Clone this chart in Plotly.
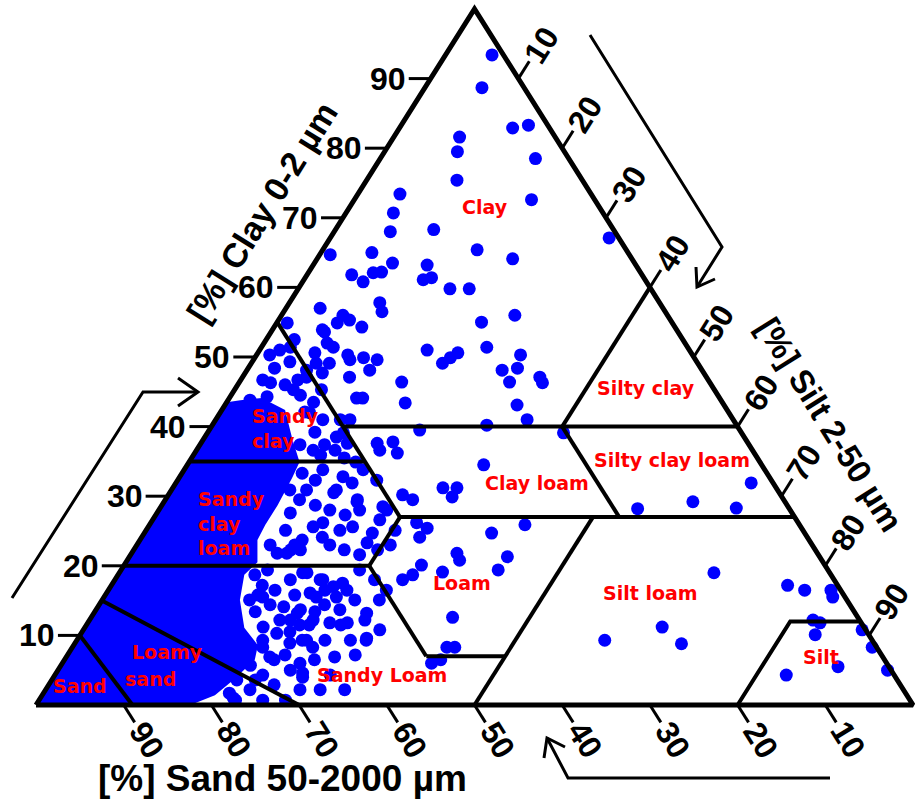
import plotly.graph_objects as go

W, H = 915, 803

# ---- sample compositions (mass %), clay and sand; silt is the remainder ----
clay = [
    # clay field
    93.4, 88.7, 82.9, 83.3, 81.6, 79.5, 78.5, 75.4, 73.4, 72.6,
    70.7, 68.0, 68.3, 67.1, 65.0, 63.5, 65.4, 64.1, 63.2, 64.7,
    61.8, 60.8, 62.1, 62.2, 61.1, 61.4, 59.8, 59.8, 57.0, 57.8,
    56.5, 56.0, 55.3, 54.9, 54.3, 53.6, 55.0, 56.0, 52.0, 51.4,
    50.6, 49.1, 50.3, 49.9, 49.6, 48.1, 47.1, 47.7, 49.1, 51.0,
    49.1, 50.6, 49.9, 51.4, 50.3, 48.4, 48.1, 46.4, 47.1, 46.3,
    46.4, 43.4, 44.1, 44.1, 43.1, 41.0, 46.3, 44.3, 46.7, 48.1,
    # clay loam / loam
    40.2, 39.5, 39.1, 34.5, 37.6, 37.8, 36.2, 36.6, 31.2, 31.2,
    29.9, 30.2, 29.5, 26.2, 25.4, 24.1, 24.7, 25.9, 21.8, 20.8,
    21.3, 19.4, 20.1, 19.1, 18.0, 18.7, 16.5, 12.6, 8.3, 8.3,
    6.5, 6.0, 9.3,
    # sandy clay loam / sandy loam
    39.1, 37.6, 36.6, 31.9, 29.5, 28.0, 30.5, 28.0, 26.6, 23.3,
    24.7, 25.6, 26.2, 25.1, 21.8, 22.3, 19.4, 19.0, 18.0, 17.0,
    16.5, 15.5, 13.7, 12.2, 12.2, 11.8, 11.5, 13.2, 12.2, 9.6,
    9.3, 8.3, 6.9, 6.0, 4.0,
    33.3, 33.8, 32.8, 33.8, 32.3, 30.9, 30.9, 29.2, 28.5, 27.6,
    25.6, 23.7, 24.1, 22.3, 21.8, 22.3, 19.0, 18.0, 17.5, 16.1,
    15.5, 15.5, 14.1, 13.2, 11.8, 11.2, 10.3, 8.9, 9.3, 9.3,
    8.3, 6.9, 4.6, 5.5, 3.6, 1.7, 1.0,
    30.9, 29.5, 25.1, 23.0, 23.0, 28.7, 28.0, 27.3, 23.0, 22.3,
    21.6, 23.0, 25.1, 33.8, 32.3, 34.9, 35.9, 37.4,
    18.7, 19.4, 17.2, 15.1, 16.5, 18.0, 15.8, 12.2, 13.4, 7.9,
    5.7, 4.3, 2.9, 2.2, 7.2, 2.2, 6.5, 2.2, 14.4, 13.7,
    9.3, 7.2, 4.3, 2.2, 15.1, 10.8, 18.0, 15.1, 0.7, 0.7,
    11.5, 9.3, 5.0,
    15.8, 14.4, 9.3, 6.5, 3.6, 0.7, 10.5, 13.4, 16.5, 11.5,
    # silty side
    31.9, 29.2, 28.3, 28.2, 19.0, 17.2, 16.5, 16.5, 15.5, 11.2,
    8.8, 12.2, 11.8, 10.1, 10.8, 8.3, 5.0, 5.5, 4.3,
    # sandy clay
    54.9, 53.9, 51.4, 49.6, 47.1, 45.3, 43.8, 42.0, 41.0, 38.5,
    37.1, 41.0,
    51.0, 49.3, 48.4, 44.5, 43.5, 45.3, 46.7, 46.0, 41.0, 39.2,
    36.6, 42.1, 50.3, 52.5, 37.4, 35.5,
]
sand = [
    1.3, 4.8, 4.2, 2.2, 10.9, 12.2, 3.8, 14.3, 21.8, 7.2,
    23.9, 25.6, 20.5, 1.1, 29.2, 27.6, 17.0, 13.6, 23.8, 34.1,
    33.1, 32.3, 30.5, 29.5, 25.3, 24.2, 22.9, 20.7, 39.1, 31.9,
    32.3, 37.0, 36.6, 38.2, 35.7, 40.3, 21.7, 17.4, 40.8, 45.3,
    42.9, 42.0, 39.3, 37.7, 36.3, 37.9, 40.7, 43.5, 43.5, 29.9,
    29.1, 26.6, 27.8, 22.9, 19.6, 20.9, 22.8, 22.8, 19.0, 19.1,
    35.1, 36.2, 41.4, 40.7, 23.6, 23.5, 50.1, 51.5, 46.8, 45.1,
    28.5, 36.5, 20.3, 31.7, 42.3, 40.4, 40.7, 42.5, 38.0, 36.4,
    37.6, 43.1, 42.3, 43.5, 42.7, 44.2, 35.7, 31.3, 41.1, 41.3,
    35.6, 37.6, 46.0, 44.1, 49.2, 47.7, 51.8, 46.2, 49.0, 48.1,
    50.6, 51.9, 30.5,
    45.4, 45.7, 50.1, 48.0, 48.6, 49.1, 50.8, 46.0, 47.5, 50.6,
    49.3, 55.6, 54.2, 52.8, 60.5, 58.7, 53.4, 59.6, 58.6, 57.6,
    56.3, 60.3, 63.0, 64.9, 62.3, 60.6, 59.5, 55.7, 56.4, 57.5,
    64.5, 64.3, 62.5, 66.9, 67.6,
    53.0, 50.4, 48.6, 45.8, 45.0, 53.7, 50.3, 48.8, 46.2, 57.2,
    51.1, 57.8, 55.3, 49.9, 61.6, 59.8, 60.1, 58.3, 56.3, 60.7,
    58.0, 66.4, 64.7, 63.6, 58.6, 68.5, 67.4, 66.6, 65.0, 57.7,
    70.0, 69.9, 67.3, 74.8, 75.3, 77.1, 77.0,
    55.6, 55.2, 59.0, 59.0, 61.8, 53.8, 52.5, 51.1, 55.0, 53.7,
    52.3, 48.1, 46.5, 55.3, 52.0, 46.1, 49.6, 51.2,
    65.7, 63.9, 65.6, 68.1, 64.5, 62.0, 62.6, 66.1, 68.3, 72.2,
    72.7, 72.0, 71.4, 74.5, 68.0, 68.8, 65.0, 66.5, 59.9, 58.5,
    59.5, 60.0, 64.3, 63.7, 53.3, 55.4, 52.4, 56.1, 76.9, 73.8,
    63.1, 62.4, 68.5,
    66.8, 66.1, 69.5, 69.6, 73.2, 71.2, 65.8, 61.5, 58.8, 64.2,
    2.5, 10.5, 6.0, 17.3, 13.2, 5.7, 4.1, 1.1, 1.4, 23.0,
    22.0, 5.3, 4.7, 6.1, 0.4, 0.5, 0.4, 5.8, 12.3,
    43.9, 40.4, 40.4, 39.4, 45.6, 48.0, 53.7, 47.8, 46.8, 46.5,
    61.2, 43.7,
    46.7, 46.4, 48.6, 47.6, 46.6, 44.8, 50.8, 48.6, 44.8, 48.6,
    47.6, 48.3, 48.2, 44.3, 48.4, 47.1,
]
assert len(clay) == len(sand)

# outline of the saturated part of the cloud (sand-rich corner)
core_clay = [0, 0, 1.4, 3.6, 6.5, 8.6, 11.1, 15.1, 18.7, 20.5, 23.7, 25.9,
             28.7, 32.6, 34.9, 38.1, 42.4, 44.1, 43.8, 43.5]
core_sand = [100, 82.4, 78.9, 75.7, 71.8, 70.4, 70.7, 69.2, 66.9, 64.5, 62.9,
             60.9, 58.1, 54.5, 52.5, 51.7, 50.4, 52.2, 54.8, 56.5]

# texture class limits, segments given as (clay, sand) end points
class_limits = [
    [(55, 45), (27, 45)],
    [(40, 45), (40, 0)],
    [(35, 65), (35, 45)],
    [(27, 45), (27, 0)],
    [(27, 45), (20, 52)],
    [(20, 80), (20, 52)],
    [(20, 52), (7, 52)],
    [(7, 52), (7, 43)],
    [(0, 50), (27, 23)],
    [(27, 20), (40, 20)],
    [(40, 20), (60, 0)],
    [(0, 20), (12, 8), (12, 0)],
    [(15, 85), (0, 70)],
    [(10, 90), (0, 89)],
]

ticks = [10, 20, 30, 40, 50, 60, 70, 80, 90]
tick_text = [str(v) for v in ticks]

class_labels = [
    ("Clay", 485, 207, "center"),
    ("Silty clay", 646, 388, "center"),
    ("Sandy<br>clay", 250, 428, "left"),
    ("Silty clay loam", 672, 460, "center"),
    ("Clay loam", 537, 483, "center"),
    ("Sandy<br>clay<br>loam", 196, 523, "left"),
    ("Loam", 462, 583, "center"),
    ("Silt loam", 650, 593, "center"),
    ("Loamy", 167, 652, "center"),
    ("sand", 150, 679, "center"),
    ("Sand", 80, 686, "center"),
    ("Sandy Loam", 382, 675, "center"),
    ("Silt", 821, 657, "center"),
]


def tern(c, s):
    """(clay, sand) -> cartesian position inside the texture triangle."""
    return 100.0 - s - c / 2.0, c


def pp(x, y):
    """pixel position -> paper coordinates"""
    return x / W, 1 - y / H


fig = go.Figure()

# dense cloud
cx, cy = zip(*[tern(c, s) for c, s in zip(core_clay, core_sand)])
fig.add_trace(go.Scatter(x=list(cx), y=list(cy), mode="lines", fill="toself",
                         fillcolor="#0000ff", line=dict(width=0, color="#0000ff"),
                         hoverinfo="skip"))

# individual samples
px_, py_ = zip(*[tern(c, s) for c, s in zip(clay, sand)])
fig.add_trace(go.Scatter(x=list(px_), y=list(py_), mode="markers",
                         marker=dict(symbol="circle", size=13, color="#0000ff",
                                     line=dict(width=0)),
                         customdata=[[c, s, round(100 - c - s, 1)] for c, s in zip(clay, sand)],
                         hovertemplate="clay %{customdata[0]}%<br>sand %{customdata[1]}%"
                                       "<br>silt %{customdata[2]}%<extra></extra>"))

# class limits
lx, ly = [], []
for seg in class_limits:
    for c, s in seg:
        x, y = tern(c, s)
        lx.append(x)
        ly.append(y)
    lx.append(None)
    ly.append(None)
fig.add_trace(go.Scatter(x=lx, y=ly, mode="lines", line=dict(color="black", width=4),
                         hoverinfo="skip"))

# triangle frame
tx, ty = zip(*[tern(c, s) for c, s in [(0, 100), (100, 0), (0, 0), (0, 100)]])
fig.add_trace(go.Scatter(x=list(tx), y=list(ty), mode="lines",
                         line=dict(color="black", width=5), hoverinfo="skip"))

# tick marks: constant-value lines extended 2.5 % outside the frame
TL = 2.5
kx, ky = [], []
for v in ticks:
    # clay (left edge)
    for c, s in [(v, 100 - v), (v, 100 - v + TL)]:
        x, y = tern(c, s)
        kx.append(x); ky.append(y)
    kx.append(None); ky.append(None)
    # sand (bottom edge)
    for c, s in [(0, v), (-TL, v)]:
        x, y = tern(c, s)
        kx.append(x); ky.append(y)
    kx.append(None); ky.append(None)
    # silt (right edge)
    for c, s in [(100 - v, 0), (100 - v + TL, -TL)]:
        x, y = tern(c, s)
        kx.append(x); ky.append(y)
    kx.append(None); ky.append(None)
fig.add_trace(go.Scatter(x=kx, y=ky, mode="lines", line=dict(color="black", width=3),
                         hoverinfo="skip"))

NUM_FONT = dict(family="Liberation Sans, Arial, sans-serif", size=32, color="black")
annotations = []
for v, t in zip(ticks, tick_text):
    # clay
    x, y = tern(v, 100 - v + TL)
    annotations.append(dict(x=x, y=y, text="<b>%s</b>" % t, showarrow=False,
                            xanchor="right", yanchor="middle", xshift=-1,
                            font=NUM_FONT))
    # sand
    x, y = tern(0, v)
    annotations.append(dict(x=x, y=y, text="<b>%s</b>" % t, showarrow=False,
                            xanchor="center", yanchor="middle", xshift=23, yshift=-35,
                            textangle=58, font=NUM_FONT))
    # silt
    x, y = tern(100 - v, 0)
    annotations.append(dict(x=x, y=y, text="<b>%s</b>" % t, showarrow=False,
                            xanchor="center", yanchor="middle", xshift=23, yshift=34,
                            textangle=-58, font=NUM_FONT))

for text, x0, y0, ang, size in [("[%] Clay 0-2 µm", 262, 212, -58, 34),
                                ("[%] Silt 2-50 µm", 830, 424, 58, 33),
                                ("[%] Sand 50-2000 µm", 282, 778, 0, 37)]:
    ax, ay = pp(x0, y0)
    annotations.append(dict(x=ax, y=ay, xref="paper", yref="paper",
                            text="<b>%s</b>" % text,
                            showarrow=False, xanchor="center", yanchor="middle",
                            textangle=ang,
                            font=dict(family="Liberation Sans, Arial, sans-serif",
                                      size=size, color="black")))

LABEL_FONT = dict(family="DejaVu Sans, Verdana, sans-serif", size=19, color="#ff0000")
for text, x0, y0, anchor in class_labels:
    ax, ay = pp(x0, y0)
    annotations.append(dict(x=ax, y=ay, xref="paper", yref="paper",
                            text="<b>%s</b>" % text, showarrow=False,
                            xanchor=anchor, yanchor="middle", align="left",
                            font=LABEL_FONT))


def path(points):
    parts = []
    for i, (x, y) in enumerate(points):
        a, b = pp(x, y)
        parts.append(("M" if i == 0 else "L") + " %.5f %.5f" % (a, b))
    return " ".join(parts)


arrows = [
    [(12, 598), (143, 392), (198, 392)],
    [(178, 378), (198, 392), (178, 406)],
    [(590, 35), (722, 247), (697, 287)],
    [(715, 279), (697, 287), (696, 267)],
    [(830, 778), (568, 778), (547, 738)],
    [(544, 758), (547, 738), (565, 747)],
]
shapes = [dict(type="path", xref="paper", yref="paper", path=path(a),
               line=dict(color="black", width=3)) for a in arrows]

fig.update_layout(
    width=W, height=H,
    margin=dict(l=0, r=0, t=0, b=0),
    paper_bgcolor="white", plot_bgcolor="white",
    showlegend=False,
    xaxis=dict(range=[-4.105, 100.228], visible=False, fixedrange=True),
    yaxis=dict(range=[-14.08, 101.29], visible=False, fixedrange=True),
    annotations=annotations,
    shapes=shapes,
)

fig.write_html("out.html")
